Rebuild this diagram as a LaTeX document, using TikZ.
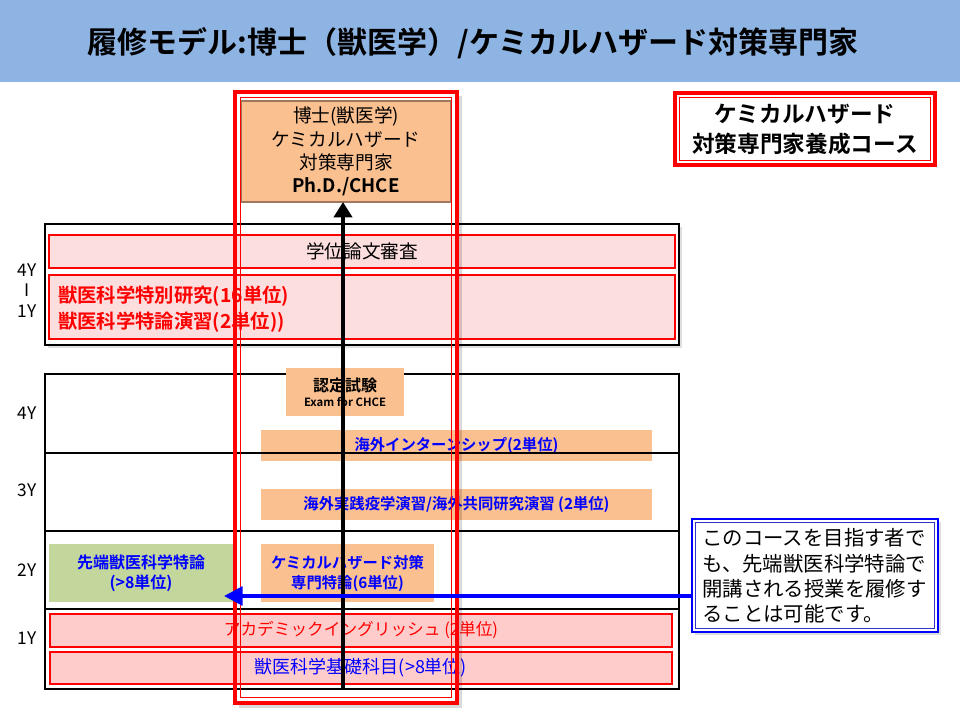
\documentclass[tikz,border=0pt]{standalone}
\usepackage{fontspec}
\setmainfont{Noto Sans CJK JP}[BoldFont={Noto Sans CJK JP Bold}]
\usetikzlibrary{shadows,arrows.meta}
\definecolor{titlebg}{HTML}{8EB4E3}
\definecolor{orangefill}{HTML}{FAC090}
\definecolor{pinkA}{HTML}{FDDEDE}
\definecolor{pinkB}{HTML}{FFCCCC}
\definecolor{greenfill}{HTML}{C3D69B}
\definecolor{bluetext}{HTML}{0000FF}
\definecolor{bevel}{HTML}{A07860}
\tikzset{
  span/.style n args={4}{minimum width={(#3-#1)*0.75pt}, minimum height={(#4-#2)*0.75pt},
    at={({(#1+#3)/2},{(#2+#4)/2})}, inner sep=0pt, outer sep=0pt, align=center},
  frame/.style={draw=black, line width=1.1pt},
  pinkbox/.style={fill=pinkA, draw=red, line width=0.8pt},
  pinkrow/.style={fill=pinkB, draw=red, line width=0.8pt},
  orangebox/.style={fill=orangefill},
  greenbox/.style={fill=greenfill},
  yearlabel/.style={font=\fontsize{13}{15}\selectfont, text=black},
  softshadow/.style={drop shadow={opacity=0.25, shadow xshift=2pt, shadow yshift=-2pt}},
}
\begin{document}
\begin{tikzpicture}[x=0.75pt, y=-0.75pt]
\useasboundingbox (0,0) rectangle (960,720);
% title bar
\fill[titlebg] (0,0) rectangle (960,82);
\node[font=\bfseries\fontsize{22.5}{26}\selectfont] (title) at (473,43)
  {履修モデル:博士（獣医学）/ケミカルハザード対策専門家};

% upper group (4Y - 1Y)
\node[frame, fill=white, softshadow, span={45}{224}{679}{345}] (upper) {};
\node[pinkbox, span={49}{235}{675}{268}, font=\fontsize{14}{17}\selectfont] (review) {学位論文審査};
\node[pinkbox, span={49}{275}{675}{339}] (research) {};
\node[anchor=west, align=left, text=red, inner sep=0pt,
      font=\bfseries\fontsize{14.5}{19.5}\selectfont] (researchtext) at (58,309)
  {獣医科学特別研究(16単位)\\獣医科学特論演習(2単位))};
\node[yearlabel] (u4) at (27,270) {4Y};
\node[yearlabel] (ubar) at (27,290) {I};
\node[yearlabel] (u1) at (27,311) {1Y};

% lower table
\node[frame, span={45}{374}{679}{689}] (table) {};
\node[orangebox, span={286}{368}{404}{416}] (exam)
  {{\bfseries\fontsize{12}{15}\selectfont 認定試験}\\[-1pt]{\bfseries\fontsize{8.5}{11}\selectfont Exam for CHCE}};
\node[orangebox, span={261}{430}{652}{461}, text=bluetext, font=\bfseries\fontsize{11.5}{14}\selectfont] (intern)
  {海外インターンシップ(2単位)};
\node[orangebox, span={261}{489}{652}{520}, text=bluetext, font=\bfseries\fontsize{11.5}{14}\selectfont] (practice)
  {海外実践疫学演習/海外共同研究演習 (2単位)};
\draw[line width=1.1pt] (table.west |- 0,453) -- (table.east |- 0,453);
\draw[line width=1.1pt] (table.west |- 0,531) -- (table.east |- 0,531);
\draw[line width=1.1pt] (table.west |- 0,609) -- (table.east |- 0,609);
\node[greenbox, span={49}{544}{233}{602}, text=bluetext, font=\bfseries\fontsize{12}{15}\selectfont] (advanced)
  {先端獣医科学特論\\(>8単位)};
\node[orangebox, span={261}{544}{434}{602}, text=bluetext, font=\bfseries\fontsize{11.5}{15}\selectfont] (special)
  {ケミカルハザード対策\\専門特論(6単位)};
\node[pinkrow, span={50}{614}{672}{647}, text=red, font=\fontsize{12.5}{15}\selectfont] (english)
  {アカデミックイングリッシュ (2単位)};
\node[pinkrow, span={50}{652}{672}{684}, text=bluetext, font=\fontsize{13.5}{16}\selectfont] (basic)
  {獣医科学基礎科目(>8単位)};
\node[yearlabel] (l4) at (27,413) {4Y};
\node[yearlabel] (l3) at (27,490) {3Y};
\node[yearlabel] (l2) at (27,570) {2Y};
\node[yearlabel] (l1) at (27,638) {1Y};

% top right course box
\node[draw=red, line width=2.5pt, fill=white, span={675}{93}{935}{165},
      font=\bfseries\fontsize{17}{22.5}\selectfont] (course)
  {ケミカルハザード\\対策専門家養成コース};
\draw[red, line width=0.7pt] ([shift={(3.5pt,-3.5pt)}]course.north west) rectangle ([shift={(-3.5pt,3.5pt)}]course.south east);

% callout
\node[draw=bluetext, line width=1.3pt, fill=white, softshadow, span={692}{519}{938}{632}] (callout) {};
\draw[bluetext!60!gray, line width=0.5pt] ([shift={(2.5pt,-2.5pt)}]callout.north west) rectangle ([shift={(-2.5pt,2.5pt)}]callout.south east);
\node[align=left, anchor=west, inner sep=0pt, font=\fontsize{15.3}{19}\selectfont] (callouttext) at (702,576)
  {このコースを目指す者で\\も、先端獣医科学特論で\\開講される授業を履修す\\ることは可能です。};

% top degree box
\node[fill=orangefill, draw=bevel, line width=1.5pt, span={241}{101}{451}{202},
      font=\fontsize{14}{17.5}\selectfont] (degree)
  {博士(獣医学)\\ケミカルハザード\\対策専門家\\\textbf{Ph.D./CHCE}};

% red track frame
\draw[black, opacity=0.15, line width=2.5pt] (460,96) -- (460,706) -- (239,706);
\node[draw=red, line width=3pt, span={235}{92}{457}{703}] (track) {};
\draw[red, line width=0.7pt] ([shift={(4pt,-4pt)}]track.north west) rectangle ([shift={(-4pt,4pt)}]track.south east);

% black arrow
\coordinate (arrowstart) at (343,690);
\draw[line width=3pt, -{Triangle[width=13.5pt,length=11.5pt]}] (arrowstart) -- (arrowstart |- degree.south);

% blue arrow
\coordinate (callin) at (callout.west |- 0,596);
\coordinate (bluetip) at (224,596);
\draw[bluetext, line width=3pt, -{Triangle[width=14pt,length=14pt]}] (callin) -- (bluetip);
\end{tikzpicture}
\end{document}
